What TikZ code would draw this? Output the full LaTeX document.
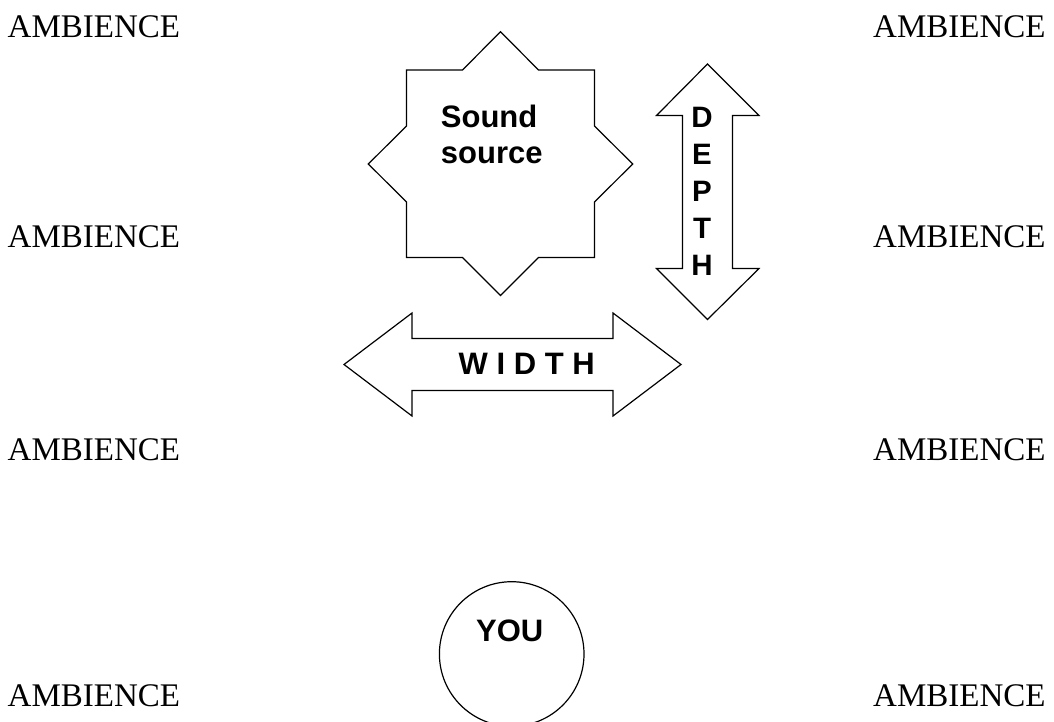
\documentclass[tikz,border=0pt]{standalone}
\usepackage{fontspec}
\setmainfont{Liberation Serif}
\newfontfamily\sansb{Liberation Sans}[UprightFont=* Bold]
\begin{document}
\begin{tikzpicture}[x=1pt,y=-1pt,
  amb/.style={anchor=base west,inner sep=0pt,font=\fontsize{33}{40}\selectfont},
  lbl/.style={inner sep=0pt,font=\sansb\fontsize{31}{37}\selectfont},
  dlbl/.style={inner sep=0pt,anchor=base,font=\sansb\fontsize{29.5}{37}\selectfont},
  outline/.style={draw,line width=1.2pt,line join=miter}]
\useasboundingbox (0,0) rectangle (1054,722);
% ambience labels
\node[amb] (a1) at (7.5,37.3) {AMBIENCE};
\node[amb] (a2) at (7.5,247.3) {AMBIENCE};
\node[amb] (a3) at (7.5,460.7) {AMBIENCE};
\node[amb] (a4) at (7.5,706) {AMBIENCE};
\node[amb] (b1) at (873,37.3) {AMBIENCE};
\node[amb] (b2) at (873,247.3) {AMBIENCE};
\node[amb] (b3) at (873,460.7) {AMBIENCE};
\node[amb] (b4) at (873,706) {AMBIENCE};
% sound source star
\draw[outline] (500.5,31.7) -- (538.5,70) -- (594.5,70) -- (594.5,126) -- (632.7,164)
  -- (594.5,202) -- (594.5,257.5) -- (538.5,257.5) -- (500.5,295.5) -- (462.5,257.5)
  -- (406.5,257.5) -- (406.5,202) -- (368.3,164) -- (406.5,126) -- (406.5,70)
  -- (462.5,70) -- cycle;
\node[lbl,anchor=base west] (s1) at (440.7,127.3) {Sound};
\node[lbl,anchor=base west] (s2) at (440.7,164) {source};
% depth arrow
\draw[outline] (707.5,64) -- (759,115.5) -- (732.5,115.5) -- (732.5,268.5) -- (759,268.5)
  -- (707.5,319.5) -- (656.5,268.5) -- (682.5,268.5) -- (682.5,115.5) -- (656.5,115.5) -- cycle;
\node[dlbl] (d1) at (702,127.3) {D};
\node[dlbl] (d2) at (702,164.2) {E};
\node[dlbl] (d3) at (702,201.1) {P};
\node[dlbl] (d4) at (702,238) {T};
\node[dlbl] (d5) at (702,275) {H};
% width arrow
\draw[outline] (344,364.5) -- (412,313) -- (412,338.5) -- (613,338.5) -- (613,313)
  -- (681,364.5) -- (613,416) -- (613,390.5) -- (412,390.5) -- (412,416) -- cycle;
\node[lbl,anchor=base] (w) at (526.7,374) {W I D T H};
% you
\node[circle,draw,line width=1.2pt,minimum size=144.6pt,inner sep=0pt] (you) at (511.7,654) {};
\node[lbl,anchor=base] (yt) at (509.7,641) {YOU};
\end{tikzpicture}
\end{document}
